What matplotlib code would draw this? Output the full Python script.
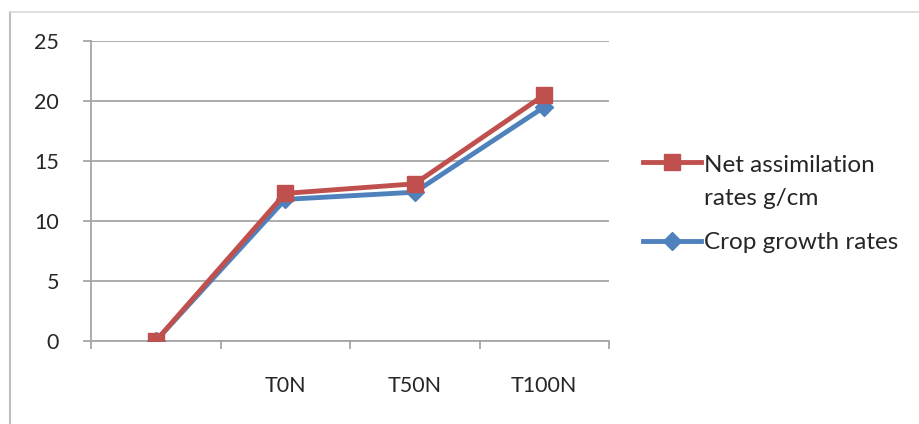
import matplotlib
matplotlib.use("Agg")
import matplotlib.pyplot as plt
from matplotlib.lines import Line2D
from matplotlib.legend_handler import HandlerLine2D

categories = ["", "T0N", "T50N", "T100N"]
net_assimilation = [0, 12.3, 13.1, 20.5]
crop_growth = [0, 11.8, 12.4, 19.5]
y_ticks = [0, 5, 10, 15, 20, 25]

red = "#C0504D"
blue = "#4F81BD"
grid_c = "#A6A6A6"
text_c = "#262626"

plt.rcParams['font.family'] = ['Lato', 'DejaVu Sans']


class ShiftedHandler(HandlerLine2D):
    """Legend handle aligned with the first line of a multi-line label."""
    def __init__(self, shift, **kw):
        super().__init__(**kw)
        self.shift = shift

    def create_artists(self, legend, orig_handle, xdescent, ydescent, width,
                       height, fontsize, trans):
        return super().create_artists(legend, orig_handle, xdescent,
                                      ydescent - self.shift, width, height,
                                      fontsize, trans)


fig = plt.figure(figsize=(9.19, 4.24), dpi=100)
ax = fig.add_axes([91/919, 83/424, (609-91)/919, 300/424])

x = list(range(len(categories)))
ax.plot(x, crop_growth, color=blue, lw=3.5, marker='D', ms=9, mfc=blue, mec=blue,
        label="Crop growth rates", zorder=3)
ax.plot(x, net_assimilation, color=red, lw=3.5, marker='s', ms=12, mfc=red, mec=red,
        label="Net assimilation\nrates g/cm", zorder=4)

ax.set_xlim(-0.5, len(categories) - 0.5)
ax.set_ylim(0, 25)
ax.set_yticks(y_ticks)
ax.set_yticklabels([str(v) for v in y_ticks], fontsize=15.5, color=text_c)
ax.yaxis.grid(True, color=grid_c, lw=1.3)
ax.set_axisbelow(True)

ax.set_xticks(x)
ax.set_xticklabels(categories, fontsize=15.5, color=text_c)
ax.set_xticks([i - 0.5 for i in range(len(categories) + 1)], minor=True)
ax.tick_params(axis='x', which='major', length=0, pad=25)
ax.tick_params(axis='x', which='minor', length=6, color=grid_c, width=1.3)
ax.tick_params(axis='y', length=6, color=grid_c, width=1.3, pad=17, direction='out')

for s in ['top', 'right']:
    ax.spines[s].set_visible(False)
for s in ['left', 'bottom']:
    ax.spines[s].set_color(grid_c)
    ax.spines[s].set_linewidth(1.3)

h_red = Line2D([], [], color=red, lw=3.5, marker='s', ms=12)
h_blue = Line2D([], [], color=blue, lw=3.5, marker='D', ms=9)
leg = fig.legend([h_red, h_blue], ["Net assimilation\nrates g/cm", "Crop growth rates"],
                 loc='center left', bbox_to_anchor=(643/919, 0.518), frameon=False,
                 fontsize=17.5, handlelength=2.4, handletextpad=0.12, labelspacing=0.95,
                 borderaxespad=0, borderpad=0,
                 handler_map={h_red: ShiftedHandler(29)})
for t in leg.get_texts():
    t.set_color(text_c)
    t.set_linespacing(1.7)

# outer frame lines (left and top)
fig.add_artist(Line2D([10/919, 10/919], [0, 1 - 12/424], transform=fig.transFigure,
                      color="#BFBFBF", lw=1.5))
fig.add_artist(Line2D([10/919, 1], [1 - 12/424, 1 - 12/424], transform=fig.transFigure,
                      color="#D9D9D9", lw=1.2))

fig.savefig("out.png", dpi=100)
